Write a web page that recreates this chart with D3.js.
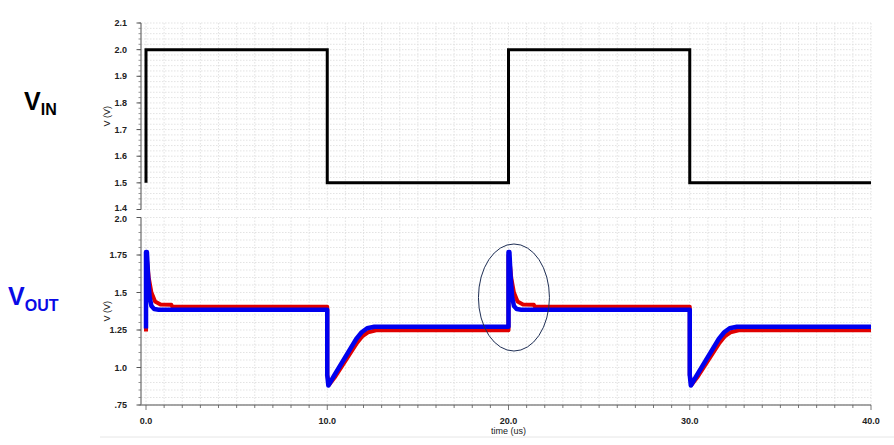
<!DOCTYPE html>
<html>
<head>
<meta charset="utf-8">
<script src="https://cdn.jsdelivr.net/npm/d3@7"></script>
<style>
  body { margin: 0; background: #fff; }
  svg { display: block; }
</style>
</head>
<body>
<svg id="chart" width="894" height="445"></svg>
<script>
// Input pulse, V vs time (us)
const vinT = [0, 0, 10, 10, 20, 20, 30, 30, 40];
const vinV = [1.5, 2.0, 2.0, 1.5, 1.5, 2.0, 2.0, 1.5, 1.5];

// Output, red trace
const redT = [0, 0, 0.05, 0.15, 0.3, 0.5, 0.8, 1.4, 1.45, 10, 10, 10.1, 10.45, 10.85, 11.25, 11.65, 11.95, 12.25, 12.7,
  20, 20, 20.05, 20.15, 20.3, 20.5, 20.8, 21.4, 21.45, 30, 30, 30.1, 30.45, 30.85, 31.25, 31.65, 31.95, 32.25, 32.7, 40];
const redV = [1.24, 1.75, 1.72, 1.6, 1.5, 1.44, 1.42, 1.418, 1.405, 1.405, 0.95, 0.885, 0.94, 1.015, 1.09, 1.165, 1.21, 1.235, 1.248,
  1.248, 1.75, 1.72, 1.6, 1.5, 1.44, 1.42, 1.418, 1.405, 1.405, 0.95, 0.885, 0.94, 1.015, 1.09, 1.165, 1.21, 1.235, 1.248, 1.248];

// Output, blue trace
const blueT = [0, 0, 0.05, 0.12, 0.2, 0.3, 0.45, 0.7, 10, 10, 10.06, 10.4, 10.8, 11.2, 11.6, 11.9, 12.2, 12.6,
  20, 20, 20.05, 20.12, 20.2, 20.3, 20.45, 20.7, 30, 30, 30.06, 30.4, 30.8, 31.2, 31.6, 31.9, 32.2, 32.6, 40];
const blueV = [1.26, 1.77, 1.77, 1.6, 1.47, 1.41, 1.39, 1.385, 1.385, 0.95, 0.88, 0.95, 1.03, 1.11, 1.19, 1.235, 1.262, 1.272,
  1.272, 1.77, 1.77, 1.6, 1.47, 1.41, 1.39, 1.385, 1.385, 0.95, 0.88, 0.95, 1.03, 1.11, 1.19, 1.235, 1.262, 1.272, 1.272];

const xTicks = [0, 10, 20, 30, 40];
const xTickLabels = ["0.0", "10.0", "20.0", "30.0", "40.0"];
const topTicks = [1.4, 1.5, 1.6, 1.7, 1.8, 1.9, 2.0, 2.1];
const topTickLabels = ["1.4", "1.5", "1.6", "1.7", "1.8", "1.9", "2.0", "2.1"];
const botTicks = [0.75, 1.0, 1.25, 1.5, 1.75, 2.0];
const botTickLabels = [".75", "1.0", "1.25", "1.5", "1.75", "2.0"];

const svg = d3.select("#chart")
  .attr("font-family", "'Liberation Sans', Arial, sans-serif");

const axisX = 141, plotRight = 871;
const x = d3.scaleLinear().domain([0, 40]).range([146, 871]);
const yTop = d3.scaleLinear().domain([1.4, 2.1]).range([209.5, 23]);
const yBot = d3.scaleLinear().domain([0.75, 2.0]).range([405, 217.5]);

function panel(y, ticks, labels, minorStep, name, labelShift) {
  const g = svg.append("g");
  const [d0, d1] = y.domain();
  const minors = d3.range(Math.round((d1 - d0) / minorStep) + 1).map(i => d0 + i * minorStep);

  // grid
  const grid = g.append("g").attr("stroke", "#dcdcdc").attr("stroke-width", 0.8).attr("stroke-dasharray", "1.5,1.5");
  grid.selectAll("line.h").data(minors).join("line")
    .attr("x1", axisX).attr("x2", plotRight)
    .attr("y1", d => y(d)).attr("y2", d => y(d));
  grid.selectAll("line.v").data(d3.range(0, 41)).join("line")
    .attr("x1", d => x(d)).attr("x2", d => x(d))
    .attr("y1", y.range()[1]).attr("y2", y.range()[0]);

  // y axis
  g.append("line").attr("x1", axisX).attr("x2", axisX)
    .attr("y1", y.range()[1]).attr("y2", y.range()[0])
    .attr("stroke", "#888").attr("stroke-width", 1.5);
  g.selectAll("line.mt").data(minors).join("line")
    .attr("x1", axisX - 2.5).attr("x2", axisX)
    .attr("y1", d => y(d)).attr("y2", d => y(d))
    .attr("stroke", "#777").attr("stroke-width", 0.8);
  g.selectAll("line.Mt").data(ticks).join("line")
    .attr("x1", axisX - 4.5).attr("x2", axisX)
    .attr("y1", d => y(d)).attr("y2", d => y(d))
    .attr("stroke", "#555").attr("stroke-width", 1);
  g.selectAll("text.tl").data(ticks).join("text")
    .attr("x", 127).attr("y", d => y(d) + 3.2 + labelShift(d))
    .attr("text-anchor", "end").attr("font-size", 9).attr("font-weight", "bold")
    .attr("fill", "#222")
    .text((d, i) => labels[i]);
  g.append("text")
    .attr("transform", `translate(110,${(y.range()[0] + y.range()[1]) / 2}) rotate(-90)`)
    .attr("text-anchor", "middle").attr("font-size", 9).attr("fill", "#222")
    .text(name);
  return g;
}

// the two panels touch, so nudge the bottom "1.4" and top "2.0" apart a bit
panel(yTop, topTicks, topTickLabels, 0.02, "V (V)", d => d === 1.4 ? -2 : 0);
panel(yBot, botTicks, botTickLabels, 0.05, "V (V)", d => d === 2.0 ? 1.5 : 0);

// x axis (bottom)
svg.append("line").attr("x1", axisX).attr("x2", plotRight).attr("y1", 405).attr("y2", 405)
  .attr("stroke", "#888").attr("stroke-width", 1.5);
svg.selectAll("line.xt").data(d3.range(0, 41)).join("line")
  .attr("x1", d => x(d)).attr("x2", d => x(d))
  .attr("y1", 405).attr("y2", d => d % 10 === 0 ? 410 : 408)
  .attr("stroke", "#555").attr("stroke-width", 0.8);
svg.selectAll("text.xl").data(xTicks).join("text")
  .attr("x", d => x(d)).attr("y", 424)
  .attr("text-anchor", "middle").attr("font-size", 9).attr("font-weight", "bold").attr("fill", "#222")
  .text((d, i) => xTickLabels[i]);
svg.append("text").attr("x", x(20)).attr("y", 433.5)
  .attr("text-anchor", "middle").attr("font-size", 9).attr("fill", "#222")
  .text("time (us)");
svg.append("line").attr("x1", 100).attr("x2", 894).attr("y1", 437).attr("y2", 437)
  .attr("stroke", "#e6e6e6").attr("stroke-width", 1);

// traces
const line = y => d3.line().x(d => x(d[0])).y(d => y(d[1]));
svg.append("path").datum(d3.zip(vinT, vinV)).attr("d", line(yTop))
  .attr("fill", "none").attr("stroke", "#000").attr("stroke-width", 3).attr("stroke-linejoin", "miter");
svg.append("path").datum(d3.zip(redT, redV)).attr("d", line(yBot))
  .attr("fill", "none").attr("stroke", "#e00000").attr("stroke-width", 4).attr("stroke-linejoin", "round");
svg.append("path").datum(d3.zip(blueT, blueV)).attr("d", line(yBot))
  .attr("fill", "none").attr("stroke", "#0000ee").attr("stroke-width", 4.5).attr("stroke-linejoin", "round");

// highlight ellipse
svg.append("ellipse").attr("cx", x(20.3)).attr("cy", 297.5).attr("rx", 35.5).attr("ry", 53.5)
  .attr("fill", "none").attr("stroke", "#1f2f55").attr("stroke-width", 1);

// signal names
const vin = svg.append("text").attr("x", 24).attr("y", 110).attr("font-weight", "bold").attr("fill", "#000");
vin.append("tspan").attr("font-size", 25).text("V");
vin.append("tspan").attr("font-size", 16).attr("dy", 5).text("IN");
const vout = svg.append("text").attr("x", 8).attr("y", 305).attr("font-weight", "bold").attr("fill", "#0a0ae6");
vout.append("tspan").attr("font-size", 25).text("V");
vout.append("tspan").attr("font-size", 16).attr("dy", 6).text("OUT");
</script>
</body>
</html>
